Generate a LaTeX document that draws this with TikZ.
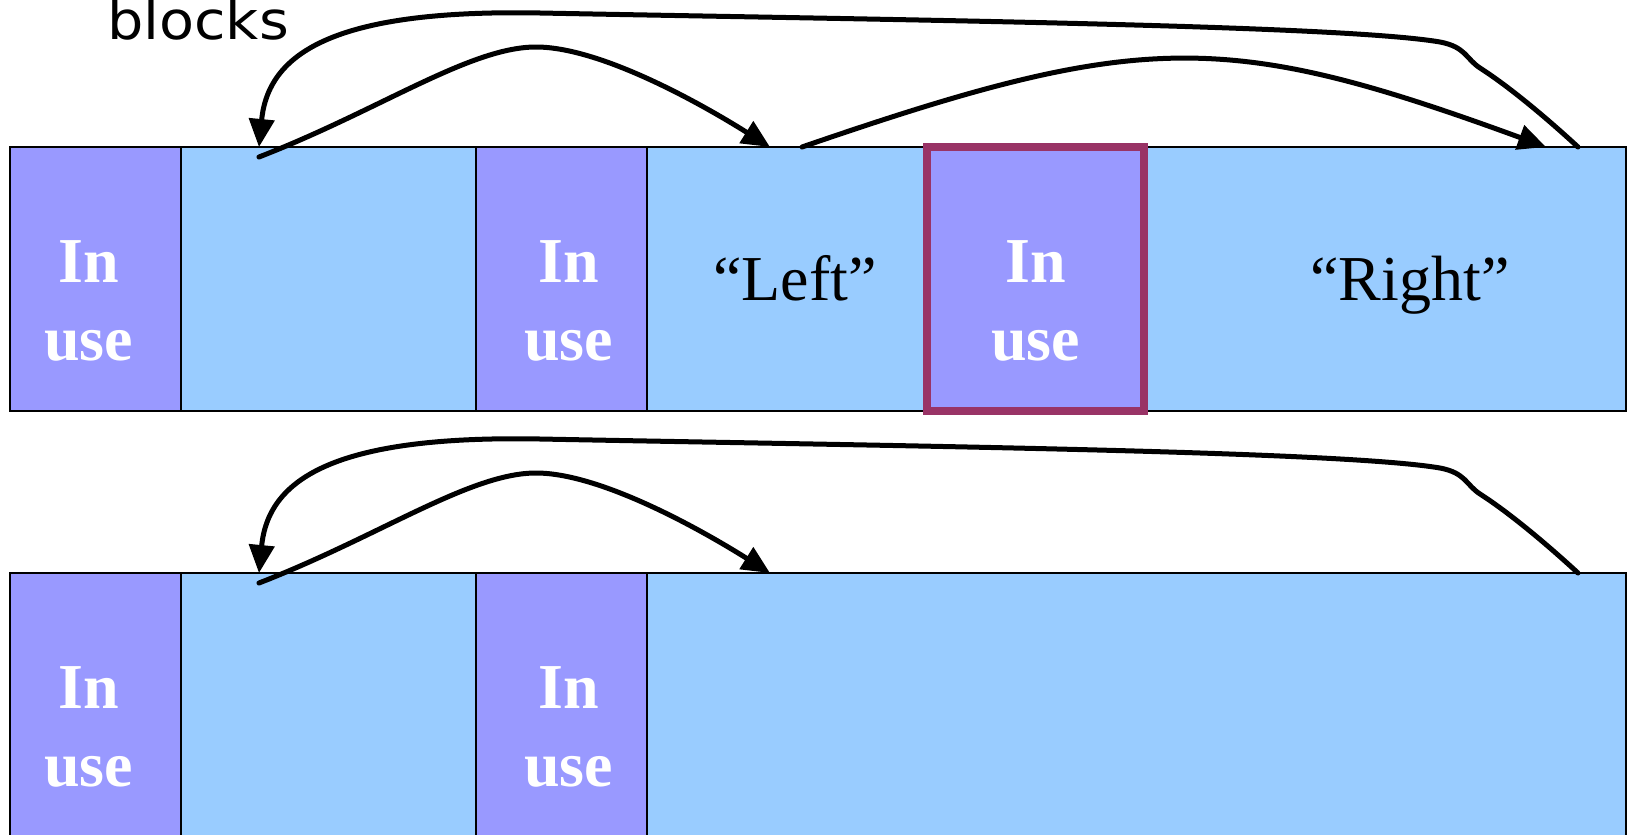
\documentclass[tikz,border=0pt]{standalone}
\usepackage{fontspec}
\setmainfont{Liberation Serif}
\newfontfamily\handfont[FakeStretch=1.08]{DejaVu Sans}
\usepackage{tikz}
\usetikzlibrary{positioning,arrows.meta}
\definecolor{usedblue}{HTML}{9999FF}
\definecolor{freeblue}{HTML}{99CCFF}
\definecolor{pickred}{HTML}{993366}

\begin{document}
\begin{tikzpicture}[x=1pt,y=-1pt,node distance=0pt,
    block/.style={rectangle,draw,line width=2.2pt,outer sep=0pt,inner sep=0pt,minimum height=264pt},
    used node/.style={block,fill=usedblue,minimum width=171pt},
    free node/.style={block,fill=freeblue},
    use text/.style={text=white,align=center,font=\fontsize{64}{78}\selectfont\bfseries},
    name text/.style={anchor=base,inner sep=0pt,font=\fontsize{64}{78}\selectfont},
    link/.style={line width=5pt,line cap=round,-{Triangle[length=28pt,width=25pt]}}]
  \useasboundingbox (0,0) rectangle (1633,835);
  \clip (0,0) rectangle (1633,835);

  \node[anchor=base west,inner sep=0pt,font=\handfont\fontsize{53}{60}\selectfont] (cap) at (107,39) {blocks};

  %heap before%
  \node[used node,anchor=north west] (u1) at (10,147) {};
  \node[free node,minimum width=295pt,right=of u1] (f1) {};
  \node[used node,right=of f1] (u2) {};
  \node[free node,minimum width=280pt,right=of u2] (f2) {};
  \node[used node,minimum width=217pt,right=of f2] (u3) {};
  \node[free node,minimum width=482pt,right=of u3] (f3) {};
  \draw[pickred,line width=8pt] (u3.north west) rectangle (u3.south east);

  \node[use text] (t1) at ([xshift=-7pt,yshift=-22pt]u1.center) {In\\use};
  \node[use text] (t2) at ([xshift=7pt,yshift=-22pt]u2.center) {In\\use};
  \node[use text] (t3) at ([yshift=-22pt]u3.center) {In\\use};
  \node[name text] (lft) at (795,300) {“Left”};
  \node[name text] (rgt) at (1410,300) {“Right”};

  \coordinate (f1top) at ([xshift=78pt]f1.north west);
  \coordinate (f1tail) at ([xshift=78pt,yshift=-10pt]f1.north west);
  \coordinate (f2in) at ([xshift=123pt]f2.north west);
  \coordinate (f2out) at ([xshift=155pt]f2.north west);
  \coordinate (f3in) at ([xshift=402pt]f3.north west);
  \coordinate (f3out) at ([xshift=434pt]f3.north west);

  \draw[link] (f3out) .. controls +(-38,-35) and +(25,16) .. ++(-98,-79)
    .. controls +(-14,-9) and +(26,5) .. ++(-40,-26)
    .. controls +(-100,-17) and +(360,7) .. ++(-900,-29)
    .. controls +(-210,-4) and +(9,-92) .. (f1top);
  \draw[link] (f1tail) .. controls +(121,-47) and +(-66,0) .. ++(277,-110)
    .. controls +(64,0) and +(-70,-44) .. (f2in);
  \draw[link] (f2out) .. controls +(340,-117) and +(-320,-117) .. (f3in);

  %heap after%
  \node[used node,anchor=north west] (u4) at (10,573) {};
  \node[free node,minimum width=295pt,right=of u4] (f4) {};
  \node[used node,right=of f4] (u5) {};
  \node[free node,minimum width=979pt,right=of u5] (f5) {};

  \node[use text] (t4) at ([xshift=-7pt,yshift=-22pt]u4.center) {In\\use};
  \node[use text] (t5) at ([xshift=7pt,yshift=-22pt]u5.center) {In\\use};

  \coordinate (f4top) at ([xshift=78pt]f4.north west);
  \coordinate (f4tail) at ([xshift=78pt,yshift=-10pt]f4.north west);
  \coordinate (f5in) at ([xshift=123pt]f5.north west);
  \coordinate (f5out) at ([xshift=931pt]f5.north west);

  \draw[link] (f5out) .. controls +(-38,-35) and +(25,16) .. ++(-98,-79)
    .. controls +(-14,-9) and +(26,5) .. ++(-40,-26)
    .. controls +(-100,-17) and +(360,7) .. ++(-900,-29)
    .. controls +(-210,-4) and +(9,-92) .. (f4top);
  \draw[link] (f4tail) .. controls +(121,-47) and +(-66,0) .. ++(277,-110)
    .. controls +(64,0) and +(-70,-44) .. (f5in);
\end{tikzpicture}
\end{document}
